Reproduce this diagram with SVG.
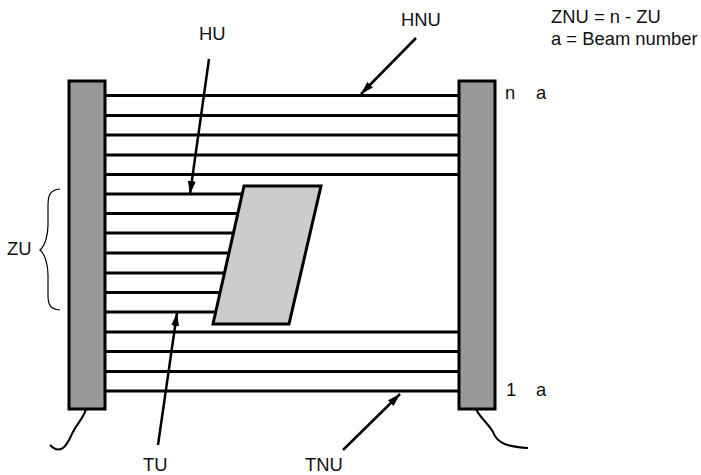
<svg xmlns="http://www.w3.org/2000/svg" width="701" height="475" viewBox="0 0 701 475">
<style>
text{font-family:"Liberation Sans",Arial,sans-serif;font-size:18.4px;fill:#111}
.bar{fill:#999;stroke:#000;stroke-width:3}
.b{stroke:#000;stroke-width:3;fill:none}
.a{stroke:#000;stroke-width:2.5;fill:none;marker-end:url(#ah)}
.w{stroke:#000;stroke-width:2;fill:none}
</style>
<defs>
<marker id="ah" markerUnits="userSpaceOnUse" markerWidth="14" markerHeight="10" refX="13" refY="4" orient="auto"><path d="M0 0L13 4L0 8Z" fill="#000"/></marker>
</defs>
<rect width="701" height="475" fill="#fff"/>
<g id="beams" class="b">
<path d="M105 95.500H459M105 115.500H459M105 135H459M105 155H459M105 174.500H459"/>
<path d="M105 194H245M105 213.500H240M105 233H235M105 253H230M105 273H225M105 292.500H222M105 312H218"/>
<path d="M105 332H459M105 351.500H459M105 371.500H459M105 391H459"/>
</g>
<g id="left-bar"><rect class="bar" x="69" y="81" width="36" height="328"/><path class="w" d="M86 409C84 418 76 424 71 436C66 447 60 455 50 445"/></g>
<g id="right-bar"><rect class="bar" x="459" y="81" width="36" height="328"/><path class="w" d="M476 409C480 418 488 423 493 432C497 443 507 447 528 448"/></g>
<g id="object"><path d="M244 186H321L289 324H213Z" fill="#ccc" stroke="#000" stroke-width="3"/></g>
<g id="connectors">
<path class="a" d="M209 59L190 194"/>
<path class="a" d="M158 445L177 313"/>
<path class="a" d="M416 38L361 94"/>
<path class="a" d="M343 450L400 394"/>
<path d="M60 189C50 190 48 195 48 205V225C48 235 45 246 40 250C45 254 48 265 48 275V295C48 305 50 309 60 310" fill="none" stroke="#000" stroke-width="1.2"/>
</g>
<g id="labels">
<text x="199" y="40">HU</text>
<text x="401" y="26">HNU</text>
<text x="551" y="23">ZNU = n - ZU</text>
<text x="551" y="45">a = Beam number</text>
<text x="505" y="99">n</text>
<text x="536" y="99">a</text>
<text x="7" y="255">ZU</text>
<text x="506" y="396">1</text>
<text x="536" y="396">a</text>
<text x="143" y="471">TU</text>
<text x="305" y="471">TNU</text>
</g>
</svg>
